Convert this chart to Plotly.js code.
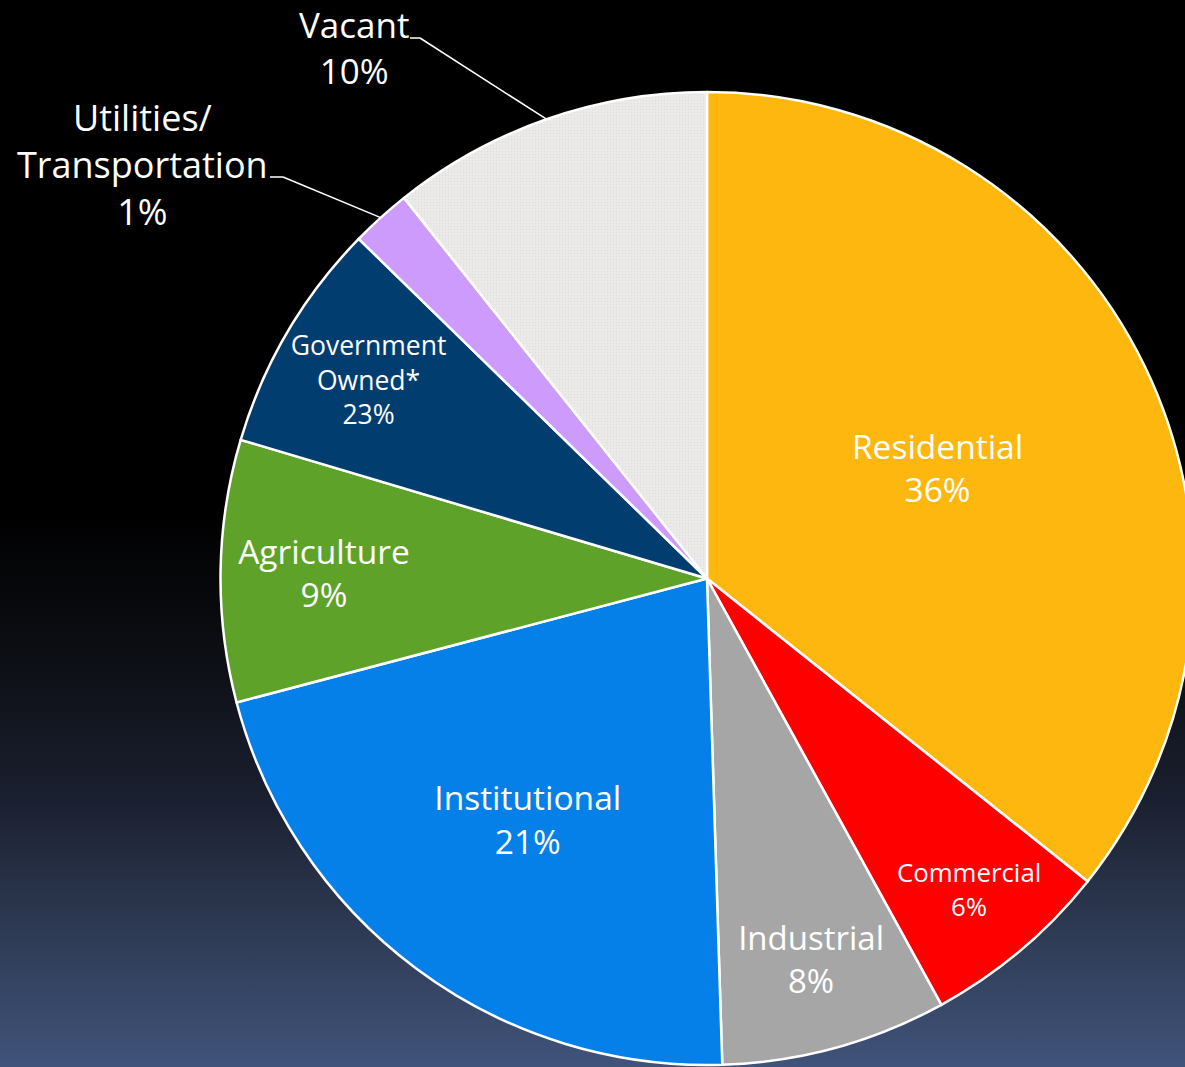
<!DOCTYPE html>
<html><head><meta charset="utf-8">
<script src="https://cdn.plot.ly/plotly-3.0.1.min.js"></script>
<style>
html,body{margin:0;padding:0;width:1185px;height:1067px;overflow:hidden;
background:linear-gradient(to bottom,#000 0%,#000 48%,#0d0f15 62%,#1b2030 75%,#2f3c56 88%,#40537a 100%);}
#chart{width:1200px;height:1067px;}
</style></head><body><div id="chart"></div>
<script>
// ---- data ----
const categories = ['Residential','Commercial','Industrial','Institutional','Agriculture','Government Owned*','Utilities/Transportation','Vacant'];
const labelLines = ['Residential','Commercial','Industrial','Institutional','Agriculture','Government<br>Owned*','Utilities/<br>Transportation','Vacant'];
const sliceShares = [35.7, 6.3, 7.5, 21.4, 8.7, 7.7, 2.0, 10.7];
const percentLabels = ['36%','6%','8%','21%','9%','23%','1%','10%'];
const sliceColors = ['#FEB70F','#FF0000','#A6A6A6','#0480E8','#5EA22A','#023D70','#CC9BFB','#EDECEA'];
const outsideSlices = ['Vacant','Utilities/Transportation'];

// ---- layout geometry ----
const W = 1200, H = 1067;
const CX = 707, CY = 578.5, R = 486.5;
const FONT = '"Open Sans", Lato, sans-serif';
const insideSizes = [33.5, 30, 33, 33.5, 33.5, 30, 33, 33];

const texts = labelLines.map((l, i) => l + '<br>' + percentLabels[i]);
const textpos = categories.map(c => outsideSlices.includes(c) ? 'none' : 'inside');

const trace = {
  type: 'pie',
  labels: categories,
  values: sliceShares,
  text: texts,
  textinfo: 'text',
  textposition: textpos,
  insidetextorientation: 'horizontal',
  insidetextfont: {family: FONT, size: insideSizes, color: '#ffffff'},
  sort: false,
  direction: 'clockwise',
  rotation: 0,
  marker: {
    colors: sliceColors,
    line: {color: '#ffffff', width: 2.5},
    pattern: {
      shape: categories.map(c => c === 'Vacant' ? '.' : ''),
      bgcolor: sliceColors,
      fgcolor: '#c9c8c5', fgopacity: 0.35, size: 3, solidity: 0.3
    }
  },
  hoverinfo: 'label+percent',
  domain: {x: [(CX - R) / W, (CX + R) / W], y: [(H - CY - R) / H, (H - CY + R) / H]},
  showlegend: false
};

// leader lines: end on the slice edge at its mid-angle
const total = sliceShares.reduce((a, b) => a + b, 0);
function midAngle(name) {
  let acc = 0;
  for (let i = 0; i < categories.length; i++) {
    if (categories[i] === name) return (acc + sliceShares[i] / 2) / total * 2 * Math.PI;
    acc += sliceShares[i];
  }
}
function edgePoint(name) {
  const a = midAngle(name);
  return [CX + R * Math.sin(a), CY - R * Math.cos(a)];
}
const px = x => x / W, py = y => 1 - y / H;

const outsideLabelPos = {
  'Vacant': {x: 354, y: 47, size: 35, tick: [410, 38, 420]},
  'Utilities/Transportation': {x: 142, y: 164, size: 36, tick: [270, 177, 283]}
};

const annotations = [], shapes = [];
outsideSlices.forEach(name => {
  const i = categories.indexOf(name);
  const p = outsideLabelPos[name];
  annotations.push({
    xref: 'paper', yref: 'paper', x: px(p.x), y: py(p.y),
    xanchor: 'center', yanchor: 'middle', showarrow: false, align: 'center',
    text: texts[i], font: {family: FONT, size: p.size, color: '#ffffff'}
  });
  const e = edgePoint(name);
  const ln = {color: '#ffffff', width: 1.5};
  shapes.push({type: 'line', xref: 'paper', yref: 'paper', x0: px(p.tick[0]), y0: py(p.tick[1]), x1: px(p.tick[2]), y1: py(p.tick[1]), line: ln});
  shapes.push({type: 'line', xref: 'paper', yref: 'paper', x0: px(p.tick[2]), y0: py(p.tick[1]), x1: px(e[0]), y1: py(e[1]), line: ln});
});

const layout = {
  width: W, height: H,
  margin: {l: 0, r: 0, t: 0, b: 0},
  paper_bgcolor: 'rgba(0,0,0,0)',
  plot_bgcolor: 'rgba(0,0,0,0)',
  font: {family: FONT, color: '#ffffff'},
  annotations: annotations,
  shapes: shapes,
  showlegend: false
};

Plotly.newPlot('chart', [trace], layout, {displayModeBar: false, staticPlot: true});
</script>
</body></html>
